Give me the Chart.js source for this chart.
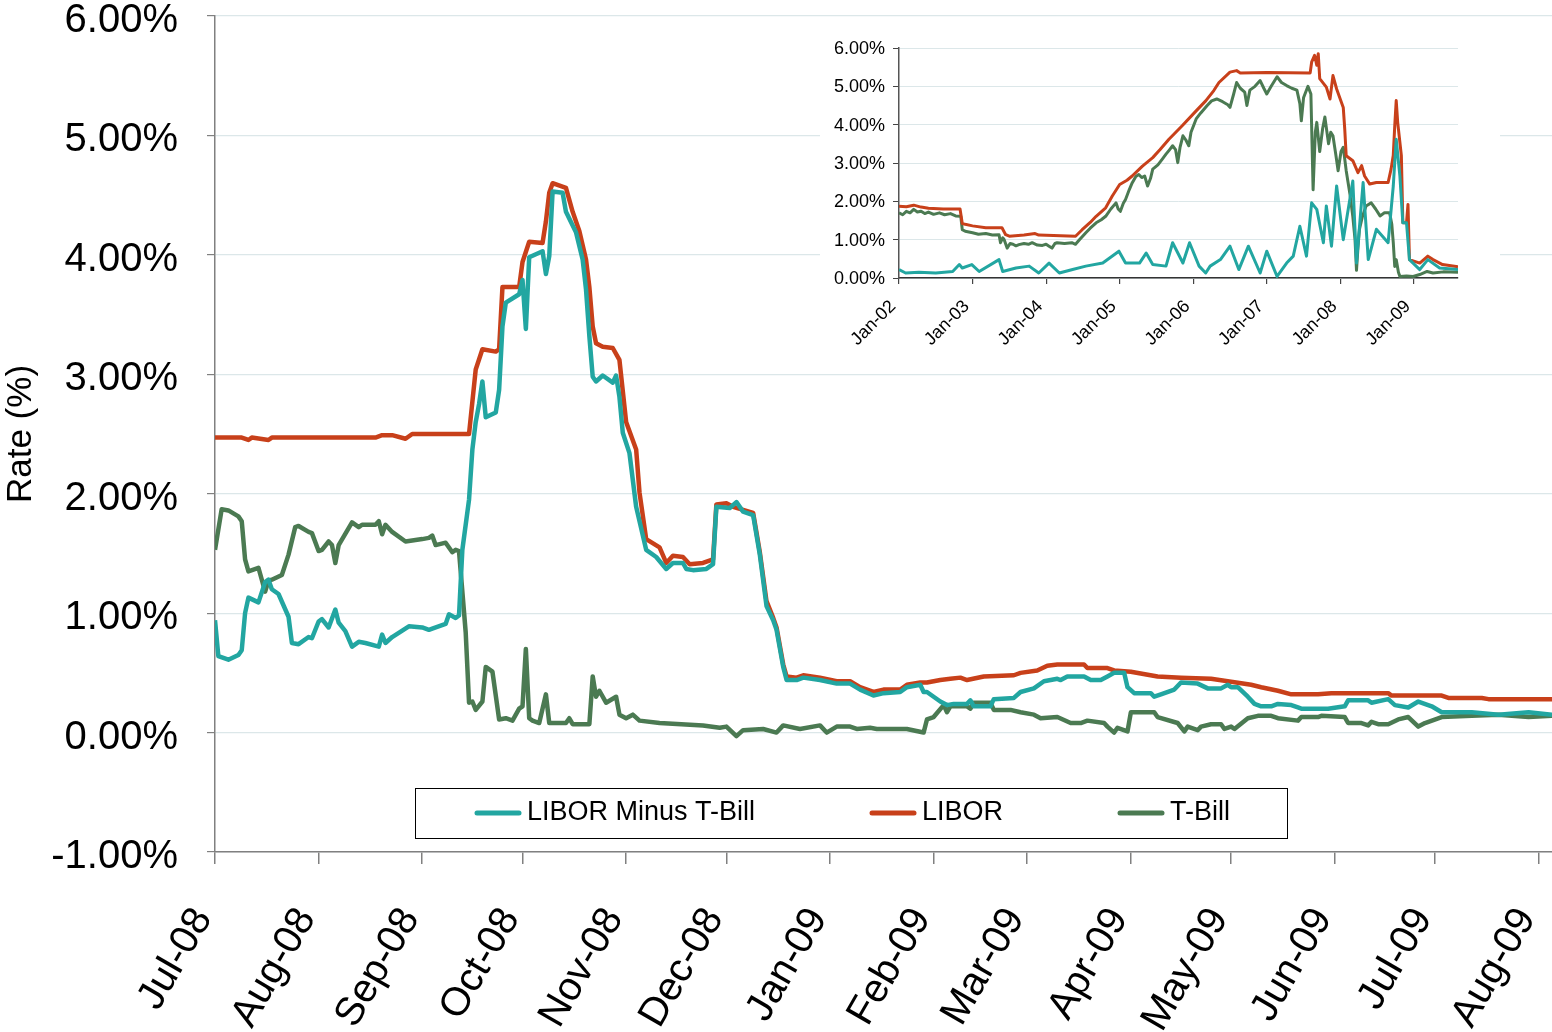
<!DOCTYPE html>
<html>
<head>
<meta charset="utf-8">
<script src="https://cdn.jsdelivr.net/npm/chart.js@4.4.0/dist/chart.umd.min.js"></script>
<style>
  body { margin: 0; background: #fff; }
  #wrap { position: relative; width: 1552px; height: 1032px; }
  #main { position: absolute; left: 0; top: 0; }
  #inset { position: absolute; left: 820px; top: 25px; }
</style>
</head>
<body>
<div id="wrap">
  <canvas id="main" width="1552" height="1032"></canvas>
  <canvas id="inset" width="680" height="335"></canvas>
</div>
<script>
// ---- main chart: x = days since 1-Jul-2008, y = rate in %
const monthLabels = ['Jul-08', 'Aug-08', 'Sep-08', 'Oct-08', 'Nov-08', 'Dec-08', 'Jan-09',
                     'Feb-09', 'Mar-09', 'Apr-09', 'May-09', 'Jun-09', 'Jul-09', 'Aug-09'];
const rateTicks = [-1, 0, 1, 2, 3, 4, 5, 6];

const liborDays = [0,8,10,11,16,17,48,50,53,57,59,76,78,80,84,85,86,91,92,94,98,99,100,101,105,107,109,111,112,113,114,116,119,121,123,126,127,129,133,135,137,140,142,146,149,150,153,155,161,163,165,167,168,170,171,174,176,181,186,190,193,197,200,205,207,211,213,217,220,223,225,230,239,241,246,249,252,260,261,267,269,274,282,289,298,303,310,313,318,322,330,334,351,352,367,369,379,381,400];
const liborVals = [2.47,2.47,2.45,2.47,2.45,2.47,2.47,2.49,2.49,2.46,2.50,2.50,3.04,3.21,3.19,3.21,3.73,3.73,3.94,4.11,4.10,4.28,4.52,4.60,4.56,4.36,4.20,3.96,3.73,3.40,3.26,3.23,3.22,3.12,2.60,2.37,2.01,1.62,1.55,1.42,1.48,1.47,1.41,1.42,1.45,1.91,1.92,1.89,1.84,1.51,1.10,0.96,0.88,0.57,0.47,0.46,0.48,0.46,0.43,0.43,0.38,0.34,0.36,0.36,0.40,0.42,0.42,0.44,0.45,0.46,0.44,0.47,0.48,0.50,0.52,0.56,0.57,0.57,0.54,0.54,0.52,0.51,0.47,0.46,0.45,0.43,0.40,0.38,0.35,0.32,0.32,0.33,0.33,0.31,0.31,0.29,0.29,0.28,0.28];

const tbillDays = [0,2,4,7,8,9,10,13,15,16,17,20,22,24,25,28,29,31,32,34,35,36,37,41,43,44,48,49,50,51,53,57,62,64,65,66,69,71,72,73,75,76,77,78,80,81,83,85,87,89,91,92,93,94,95,97,99,100,105,106,107,112,113,114,115,117,120,121,123,125,127,133,146,151,153,156,158,164,168,170,175,181,183,186,190,192,196,198,207,212,213,215,218,219,220,225,226,227,232,233,238,241,245,247,252,256,259,261,266,267,269,270,273,274,281,282,288,290,291,294,295,298,301,302,304,305,309,312,316,318,324,325,330,331,338,339,343,345,346,348,351,354,357,360,362,367,376,384,393,400];
const tbillVals = [1.53,1.87,1.86,1.81,1.77,1.45,1.35,1.38,1.18,1.27,1.28,1.32,1.49,1.72,1.73,1.68,1.67,1.52,1.53,1.60,1.57,1.42,1.57,1.76,1.72,1.74,1.74,1.77,1.66,1.74,1.68,1.60,1.62,1.63,1.65,1.57,1.59,1.51,1.53,1.52,0.84,0.25,0.26,0.19,0.26,0.55,0.51,0.11,0.12,0.10,0.20,0.22,0.70,0.12,0.10,0.08,0.32,0.08,0.08,0.12,0.07,0.07,0.47,0.30,0.35,0.25,0.30,0.15,0.12,0.15,0.10,0.08,0.06,0.04,0.05,-0.03,0.02,0.03,0.00,0.06,0.03,0.06,0.00,0.05,0.05,0.03,0.04,0.03,0.03,0.00,0.11,0.13,0.23,0.17,0.22,0.22,0.20,0.25,0.25,0.19,0.19,0.17,0.15,0.12,0.13,0.08,0.08,0.10,0.08,0.05,0.00,0.04,0.01,0.17,0.17,0.13,0.08,0.01,0.05,0.02,0.05,0.07,0.07,0.03,0.05,0.03,0.12,0.14,0.14,0.12,0.10,0.13,0.13,0.14,0.13,0.08,0.08,0.06,0.09,0.07,0.07,0.11,0.13,0.05,0.08,0.13,0.14,0.15,0.13,0.14];

const spreadDays = [0,1,4,7,8,9,10,13,15,16,17,19,22,23,25,28,29,31,32,34,36,37,39,41,43,45,49,50,51,53,58,62,64,65,69,70,72,73,74,76,77,78,79,80,81,84,85,86,87,91,92,93,94,98,99,100,101,104,105,108,110,111,112,113,114,116,119,120,121,122,124,126,129,132,135,137,140,141,143,147,149,150,154,156,158,161,163,165,167,168,170,171,174,176,181,186,190,193,197,200,205,207,211,212,213,217,219,221,225,226,227,232,233,239,241,245,248,252,253,255,260,262,265,267,269,272,273,275,280,281,283,287,289,294,297,301,303,304,306,309,311,313,316,318,322,324,325,333,338,339,345,346,351,353,357,360,364,367,376,384,393,400];
const spreadVals = [0.94,0.64,0.61,0.65,0.69,1.00,1.13,1.09,1.26,1.28,1.20,1.16,0.97,0.75,0.74,0.80,0.79,0.93,0.95,0.88,1.03,0.92,0.85,0.72,0.76,0.75,0.72,0.82,0.75,0.80,0.89,0.88,0.86,0.87,0.91,0.99,0.96,0.98,1.53,1.95,2.37,2.60,2.75,2.94,2.64,2.68,2.87,3.40,3.60,3.67,3.79,3.38,3.98,4.03,3.84,3.99,4.53,4.52,4.36,4.19,3.96,3.71,3.32,2.98,2.94,2.99,2.93,2.99,2.81,2.51,2.34,1.89,1.53,1.47,1.37,1.42,1.42,1.37,1.36,1.37,1.41,1.89,1.88,1.93,1.85,1.82,1.49,1.06,0.94,0.86,0.55,0.44,0.44,0.46,0.44,0.41,0.41,0.36,0.31,0.33,0.34,0.38,0.40,0.34,0.34,0.26,0.23,0.24,0.24,0.27,0.22,0.22,0.28,0.29,0.34,0.37,0.43,0.45,0.44,0.47,0.47,0.44,0.44,0.47,0.50,0.50,0.38,0.33,0.33,0.30,0.32,0.36,0.42,0.41,0.37,0.37,0.40,0.38,0.38,0.30,0.24,0.22,0.22,0.24,0.23,0.21,0.20,0.20,0.22,0.27,0.27,0.25,0.28,0.23,0.21,0.26,0.22,0.17,0.17,0.15,0.17,0.15];

// ---- inset chart: x = years since Jan-2002
const insetYearLabels = ['Jan-02', 'Jan-03', 'Jan-04', 'Jan-05', 'Jan-06', 'Jan-07', 'Jan-08', 'Jan-09'];

const insetLiborT = [0.00,0.10,0.20,0.30,0.40,0.60,0.83,0.86,0.90,1.00,1.18,1.40,1.45,1.50,1.70,1.85,1.90,2.20,2.40,2.49,2.60,2.68,2.81,2.90,3.00,3.10,3.17,3.31,3.45,3.55,3.67,3.85,4.04,4.17,4.28,4.35,4.50,4.59,4.64,5.00,5.59,5.61,5.65,5.68,5.70,5.72,5.81,5.86,5.90,5.95,6.04,6.06,6.08,6.17,6.24,6.29,6.33,6.40,6.49,6.65,6.69,6.72,6.74,6.76,6.78,6.83,6.85,6.90,6.92,6.94,7.08,7.19,7.26,7.39,7.60];
const insetLiborVals = [1.87,1.86,1.90,1.85,1.82,1.80,1.80,1.42,1.40,1.36,1.31,1.31,1.13,1.09,1.12,1.16,1.12,1.10,1.09,1.26,1.45,1.61,1.83,2.14,2.44,2.55,2.66,2.92,3.14,3.35,3.62,3.97,4.36,4.62,4.89,5.10,5.37,5.41,5.35,5.36,5.35,5.63,5.81,5.55,5.85,5.20,4.98,4.67,5.28,4.93,4.45,3.89,3.19,3.06,2.75,2.93,2.66,2.45,2.49,2.49,2.84,3.20,3.97,4.63,4.06,3.19,1.44,1.44,1.92,0.48,0.39,0.57,0.48,0.35,0.29];

const insetTbillT = [0.00,0.05,0.10,0.15,0.20,0.25,0.30,0.35,0.40,0.47,
                     0.55,0.62,0.70,0.77,0.84,0.86,0.90,0.95,1.00,1.08,
                     1.18,1.27,1.36,1.38,1.41,1.43,1.47,1.51,1.55,1.59,
                     1.63,1.70,1.76,1.81,1.88,1.95,2.00,2.04,2.08,2.12,
                     2.15,2.25,2.35,2.40,2.45,2.54,2.60,2.68,2.75,2.81,
                     2.88,2.95,2.98,3.01,3.05,3.08,3.13,3.17,3.22,3.26,
                     3.30,3.34,3.38,3.42,3.45,3.52,3.58,3.63,3.68,3.72,
                     3.76,3.79,3.82,3.86,3.90,3.94,3.97,4.04,4.10,4.19,
                     4.25,4.32,4.40,4.47,4.50,4.55,4.59,4.64,4.70,4.73,
                     4.77,4.84,4.91,4.96,5.00,5.06,5.14,5.20,5.27,5.34,
                     5.41,5.45,5.47,5.50,5.56,5.60,5.63,5.66,5.68,5.72,
                     5.76,5.79,5.84,5.87,5.90,5.94,5.97,6.01,6.04,6.08,
                     6.13,6.17,6.20,6.22,6.24,6.26,6.30,6.35,6.42,6.48,
                     6.54,6.60,6.67,6.70,6.72,6.74,6.76,6.79,6.81,6.90,
                     6.99,7.08,7.18,7.26,7.40,7.60];
const insetTbillVals = [1.70,1.65,1.74,1.70,1.79,1.72,1.74,1.68,1.72,1.66,
                        1.70,1.65,1.68,1.62,1.61,1.26,1.22,1.20,1.18,1.14,
                        1.16,1.12,1.13,0.92,1.05,1.00,0.78,0.90,0.88,0.84,
                        0.87,0.90,0.88,0.92,0.86,0.85,0.88,0.83,0.78,0.90,
                        0.92,0.90,0.92,0.88,0.99,1.18,1.30,1.44,1.52,1.61,
                        1.80,1.96,1.80,1.74,1.95,2.05,2.30,2.48,2.65,2.70,
                        2.62,2.66,2.40,2.60,2.84,2.95,3.10,3.23,3.35,3.45,
                        3.35,3.01,3.40,3.71,3.60,3.45,3.80,4.15,4.30,4.50,
                        4.62,4.67,4.60,4.52,4.45,4.80,5.10,4.95,4.85,4.50,
                        4.90,5.00,5.15,4.95,4.80,5.00,5.25,5.10,5.02,4.95,
                        4.90,4.55,4.10,4.70,5.00,4.80,2.30,3.80,4.06,3.30,
                        3.90,4.20,3.50,3.80,3.71,3.20,2.80,3.30,3.41,2.80,
                        2.20,1.60,1.00,0.20,0.80,1.27,1.60,1.88,1.96,1.80,
                        1.62,1.70,1.70,1.40,0.92,0.30,0.48,0.15,0.04,0.05,
                        0.04,0.09,0.17,0.13,0.16,0.15];

const insetSpreadT = [0.00,0.09,0.27,0.50,0.73,0.82,0.86,0.99,1.09,1.36,1.41,1.59,1.77,1.90,2.04,2.18,2.36,2.54,2.77,2.99,3.08,3.27,3.36,3.45,3.63,3.72,3.86,3.95,4.08,4.17,4.23,4.37,4.50,4.62,4.75,4.91,5.00,5.14,5.27,5.36,5.45,5.54,5.61,5.68,5.77,5.81,5.88,5.95,6.04,6.17,6.22,6.31,6.38,6.49,6.65,6.72,6.76,6.81,6.85,6.90,6.94,7.08,7.19,7.35,7.60];
const insetSpreadVals = [0.22,0.13,0.15,0.13,0.17,0.35,0.26,0.35,0.17,0.48,0.17,0.26,0.31,0.13,0.39,0.13,0.22,0.31,0.39,0.70,0.39,0.39,0.65,0.35,0.31,0.92,0.39,0.92,0.31,0.13,0.31,0.48,0.83,0.22,0.83,0.13,0.70,0.04,0.39,0.57,1.35,0.57,1.96,1.79,0.92,1.88,0.83,2.40,1.00,2.53,0.39,2.49,0.48,1.27,0.92,2.40,3.62,2.66,1.44,1.44,0.48,0.22,0.48,0.26,0.22];

const TEAL = '#22a6a1', RED = '#c8401a', GREEN = '#4b7a52';
const FONT = '"Liberation Sans", Arial, sans-serif';

const pts = (xs, ys) => xs.map((x, i) => ({ x: x, y: ys[i] }));

// day offsets of each month start, from the month labels
const start = Date.UTC(2008, 6, 1);
const monthDays = monthLabels.map((_, i) => Math.round((Date.UTC(2008, 6 + i, 1) - start) / 86400000));

// legend drawn inside the plot, with a box round it
const boxLegend = {
    id: 'boxLegend',
    afterDraw(chart) {
        const ctx = chart.ctx;
        const x0 = 415, y0 = 788, w = 872, h = 50;
        const starts = [477, 872, 1120];
        ctx.save();
        ctx.fillStyle = '#fff';
        ctx.fillRect(x0, y0, w, h);
        ctx.strokeStyle = '#000';
        ctx.lineWidth = 1;
        ctx.strokeRect(x0 + 0.5, y0 + 0.5, w, h);
        chart.data.datasets.forEach((ds, i) => {
            const sx = starts[i], cy = y0 + h / 2;
            ctx.strokeStyle = ds.borderColor;
            ctx.lineWidth = 5;
            ctx.lineCap = 'round';
            ctx.beginPath();
            ctx.moveTo(sx, cy);
            ctx.lineTo(sx + 42, cy);
            ctx.stroke();
            ctx.fillStyle = '#000';
            ctx.font = '27px ' + FONT;
            ctx.textBaseline = 'middle';
            ctx.fillText(ds.label, sx + 50, cy);
        });
        ctx.restore();
    }
};

const whiteBg = {
    id: 'whiteBg',
    beforeDraw(chart) {
        const ctx = chart.ctx;
        ctx.save();
        ctx.fillStyle = '#fff';
        ctx.fillRect(0, 0, chart.width, chart.height);
        ctx.restore();
    }
};

const line = (label, data, color, width) => ({
    label: label, data: data, borderColor: color, backgroundColor: color,
    borderWidth: width, pointRadius: 0, tension: 0, borderJoinStyle: 'round', fill: false
});

new Chart(document.getElementById('main'), {
    type: 'line',
    data: {
        datasets: [
            line('LIBOR Minus T-Bill', pts(spreadDays, spreadVals), TEAL, 4.5),
            line('LIBOR', pts(liborDays, liborVals), RED, 4.5),
            line('T-Bill', pts(tbillDays, tbillVals), GREEN, 4.5)
        ]
    },
    options: {
        responsive: false,
        animation: false,
        layout: { padding: { top: 16, left: 0, right: 0, bottom: 0 } },
        plugins: { legend: { display: false }, tooltip: { enabled: false } },
        scales: {
            x: {
                type: 'linear', min: 0, max: 400,
                afterBuildTicks: s => { s.ticks = monthDays.map(v => ({ value: v })); },
                afterFit: s => { s.height = 180; s.paddingLeft = 0; s.paddingRight = 0; },
                ticks: {
                    autoSkip: false, minRotation: 60, maxRotation: 60, padding: 36, labelOffset: -12,
                    color: '#000', font: { family: FONT, size: 40 },
                    callback: (v, i) => monthLabels[i]
                },
                grid: { drawOnChartArea: false, tickLength: 12, color: '#808080', lineWidth: 1.5 },
                border: { color: '#808080', width: 1.5 }
            },
            y: {
                min: -1, max: 6,
                afterBuildTicks: s => { s.ticks = rateTicks.map(v => ({ value: v })); },
                afterFit: s => { s.width = 215; s.paddingTop = 0; s.paddingBottom = 0; },
                ticks: {
                    padding: 29, labelOffset: 5, color: '#000', font: { family: FONT, size: 40 },
                    callback: v => v.toFixed(2) + '%'
                },
                grid: { color: '#dce7e9', tickColor: '#808080', tickLength: 8, lineWidth: 1.2 },
                border: { color: '#808080', width: 1.5 },
                title: {
                    display: true, text: 'Rate (%)', color: '#000',
                    font: { family: FONT, size: 35 }, padding: { top: 0, bottom: 0 }
                }
            }
        }
    },
    plugins: [whiteBg, boxLegend]
});

new Chart(document.getElementById('inset'), {
    type: 'line',
    data: {
        datasets: [
            line('LIBOR Minus T-Bill', pts(insetSpreadT, insetSpreadVals), TEAL, 3),
            line('LIBOR', pts(insetLiborT, insetLiborVals), RED, 3),
            line('T-Bill', pts(insetTbillT, insetTbillVals), GREEN, 3)
        ]
    },
    options: {
        responsive: false,
        animation: false,
        layout: { padding: { top: 23, left: 0, right: 42, bottom: 0 } },
        plugins: { legend: { display: false }, tooltip: { enabled: false } },
        scales: {
            x: {
                type: 'linear', min: 0, max: 7.6,
                afterBuildTicks: s => { s.ticks = insetYearLabels.map((_, i) => ({ value: i })); },
                afterFit: s => { s.height = 82; s.paddingLeft = 0; s.paddingRight = 0; },
                ticks: {
                    autoSkip: false, minRotation: 45, maxRotation: 45, padding: 12, labelOffset: -6,
                    color: '#000', font: { family: FONT, size: 18 },
                    callback: (v, i) => insetYearLabels[i]
                },
                grid: { drawOnChartArea: false, tickLength: 6, color: '#444', lineWidth: 1.2 },
                border: { color: '#333', width: 1.5 }
            },
            y: {
                min: 0, max: 6,
                afterBuildTicks: s => { s.ticks = rateTicks.slice(1).map(v => ({ value: v })); },
                afterFit: s => { s.width = 79; s.paddingTop = 0; s.paddingBottom = 0; },
                ticks: {
                    padding: 8, labelOffset: 1, color: '#000', font: { family: FONT, size: 18 },
                    callback: v => v.toFixed(2) + '%'
                },
                grid: { color: '#dce7e9', tickColor: '#444', tickLength: 6, lineWidth: 1 },
                border: { color: '#555', width: 1.5 }
            }
        }
    },
    plugins: [whiteBg]
});
</script>
</body>
</html>
